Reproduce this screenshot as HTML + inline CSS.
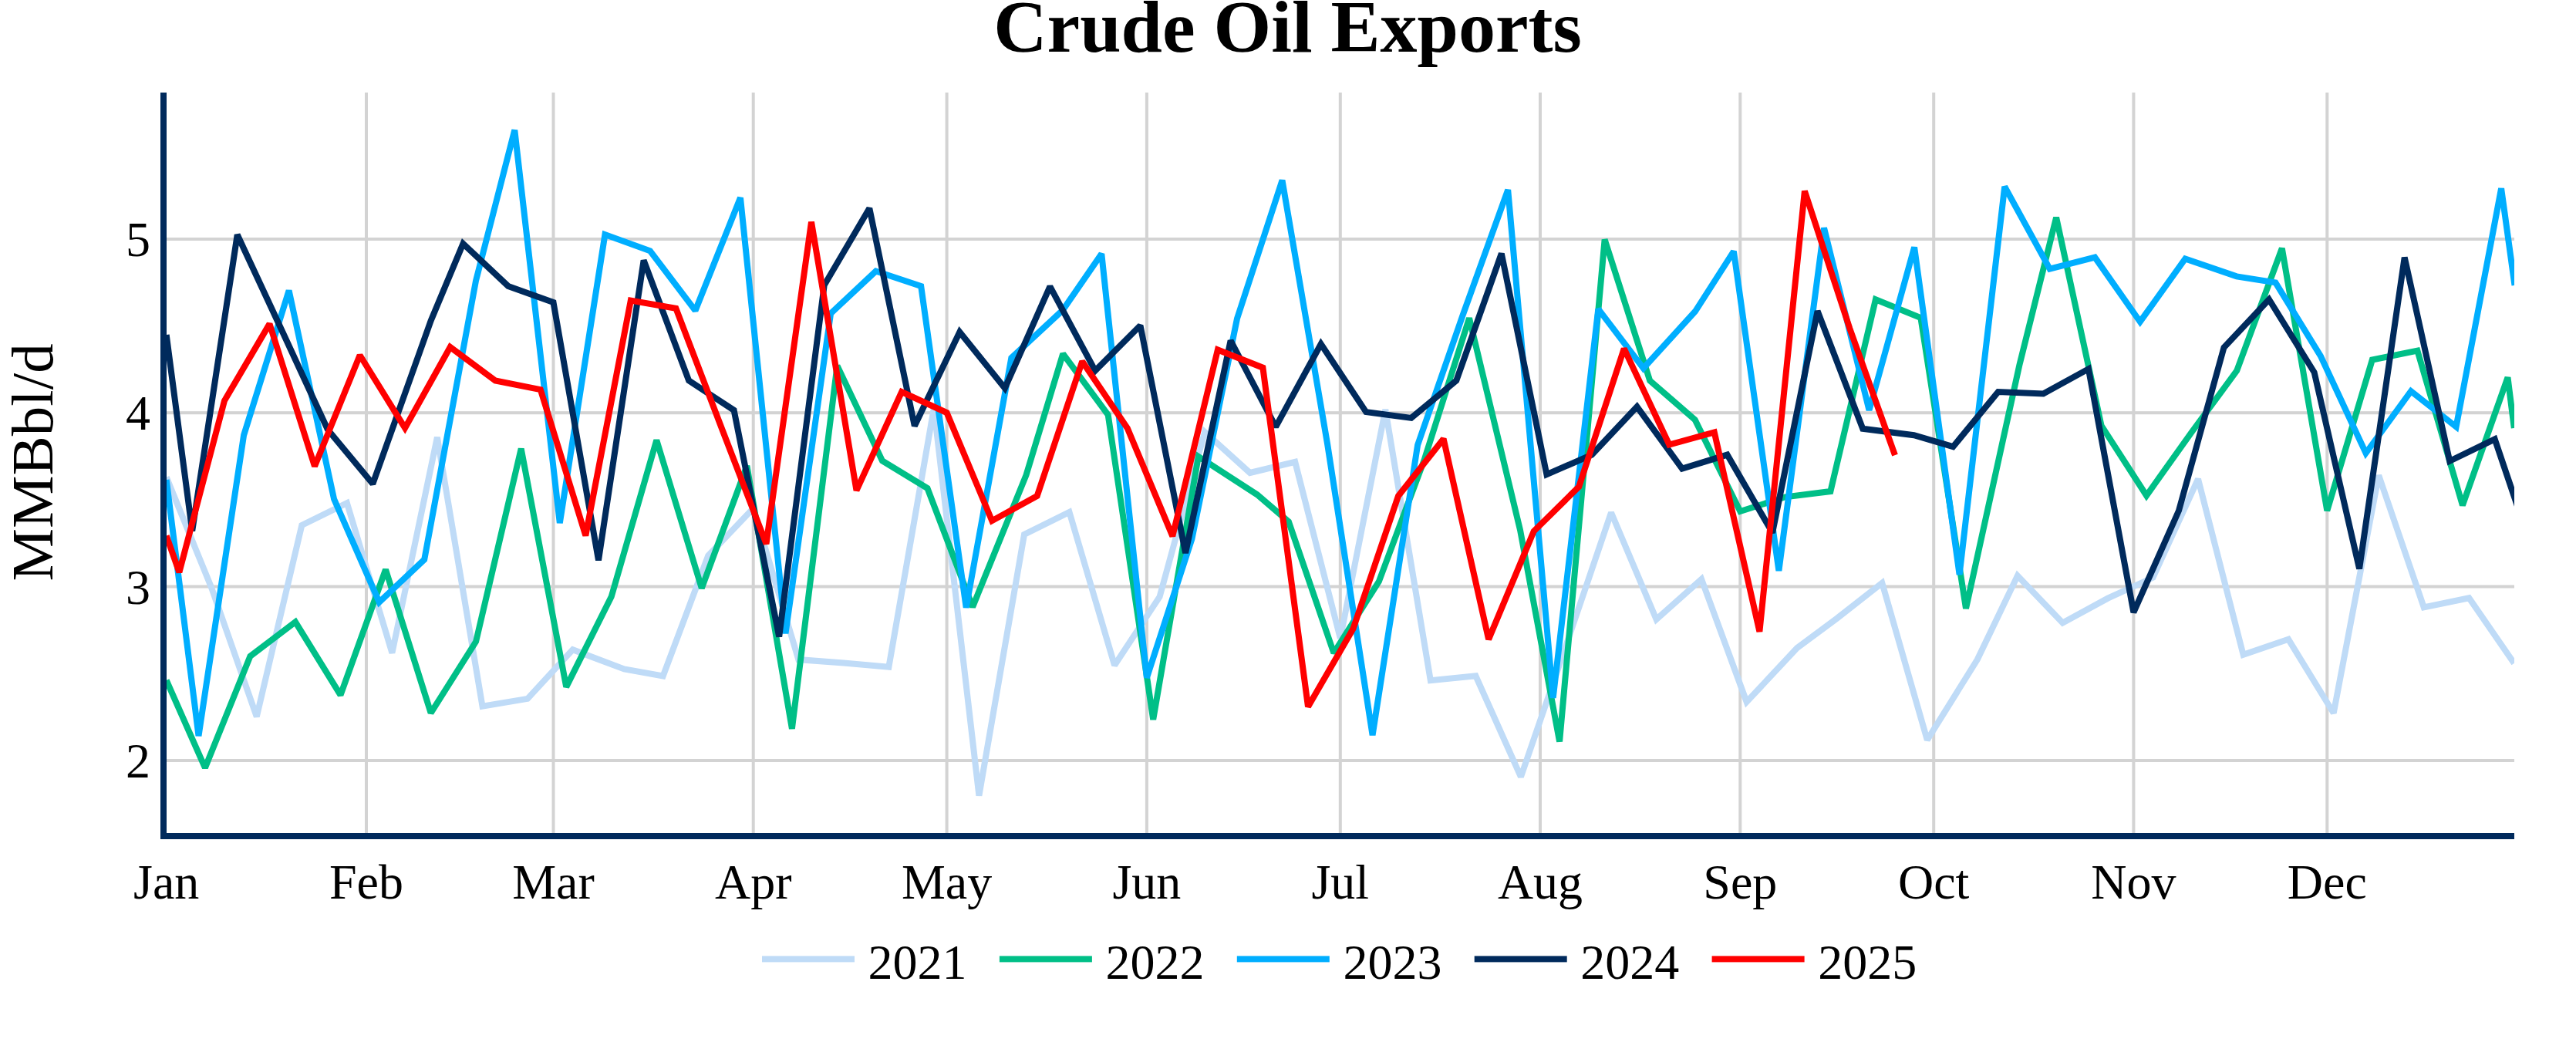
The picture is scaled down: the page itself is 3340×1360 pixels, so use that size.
<!DOCTYPE html><html><head><meta charset="utf-8"><title>Crude Oil Exports</title><style>html,body{margin:0;padding:0;background:#fff}svg{display:block}text{font-family:"Liberation Serif",serif;fill:#000}</style></head><body>
<svg width="3340" height="1360" viewBox="0 0 3340 1360">
<rect width="3340" height="1360" fill="#fff"/>
<defs><clipPath id="c"><rect x="216" y="120" width="3044" height="960"/></clipPath></defs>
<rect x="473.0" y="120" width="4" height="960" fill="#d3d3d3"/>
<rect x="715.5" y="120" width="4" height="960" fill="#d3d3d3"/>
<rect x="974.7" y="120" width="4" height="960" fill="#d3d3d3"/>
<rect x="1225.6" y="120" width="4" height="960" fill="#d3d3d3"/>
<rect x="1484.9" y="120" width="4" height="960" fill="#d3d3d3"/>
<rect x="1735.8" y="120" width="4" height="960" fill="#d3d3d3"/>
<rect x="1995.0" y="120" width="4" height="960" fill="#d3d3d3"/>
<rect x="2254.3" y="120" width="4" height="960" fill="#d3d3d3"/>
<rect x="2505.2" y="120" width="4" height="960" fill="#d3d3d3"/>
<rect x="2764.4" y="120" width="4" height="960" fill="#d3d3d3"/>
<rect x="3015.3" y="120" width="4" height="960" fill="#d3d3d3"/>
<rect x="216" y="308.0" width="3044" height="4" fill="#d3d3d3"/>
<rect x="216" y="533.2" width="3044" height="4" fill="#d3d3d3"/>
<rect x="216" y="758.5" width="3044" height="4" fill="#d3d3d3"/>
<rect x="216" y="984.0" width="3044" height="4" fill="#d3d3d3"/>
<g clip-path="url(#c)" fill="none" stroke-width="8" stroke-miterlimit="2" stroke-linejoin="miter" stroke-linecap="butt">
<path d="M215.7,618.6L274.2,762.0L332.8,929.1L391.3,681.0L449.9,652.2L508.4,846.5L566.9,566.9L625.5,915.6L684.0,905.9L742.6,842.3L809.3,867.5L859.7,876.5L918.2,720.4L976.7,659.0L1035.3,855.1L1093.8,859.5L1152.4,864.8L1210.9,529.0L1269.4,1031.5L1328.0,693.0L1386.5,663.9L1445.1,862.5L1503.6,773.6L1562.1,560.0L1620.7,613.0L1679.2,598.9L1737.8,827.6L1796.3,530.9L1854.8,882.2L1913.4,876.3L1971.9,1007.2L2030.5,836.8L2089.0,664.5L2147.6,803.0L2206.1,750.9L2264.6,910.0L2330.1,840.1L2381.7,801.7L2440.3,755.8L2498.8,959.4L2563.8,855.1L2615.9,746.4L2674.4,807.6L2733.0,775.7L2791.5,748.8L2850.0,621.0L2908.6,848.9L2967.1,828.8L3025.7,924.5L3084.2,616.3L3142.7,787.3L3201.3,775.3L3259.8,860.0" stroke="#bfdbf7"/>
<path d="M215.7,881.9L265.9,995.5L324.4,850.8L383.0,806.3L441.5,901.1L500.0,738.4L558.6,924.3L617.1,831.8L675.7,581.7L734.2,890.6L792.7,773.6L851.3,570.7L909.8,762.6L968.4,604.0L1026.9,944.7L1085.5,474.2L1144.0,597.5L1202.5,633.0L1261.1,786.9L1330.5,616.0L1378.2,458.7L1436.7,537.8L1495.2,932.9L1553.8,591.8L1630.0,641.3L1670.9,676.4L1729.4,846.7L1787.9,753.8L1846.5,596.6L1905.0,412.5L1971.0,687.0L2022.1,961.4L2080.6,310.5L2139.2,493.4L2197.7,544.2L2256.3,663.0L2314.8,644.3L2373.4,637.0L2431.9,388.3L2490.4,412.1L2549.0,789.0L2618.5,472.7L2666.1,281.9L2724.6,551.8L2783.1,642.5L2841.7,560.2L2900.2,480.7L2958.8,322.0L3017.3,662.1L3075.8,466.5L3134.4,454.7L3192.9,655.1L3251.5,489.3L3259.8,555.0" stroke="#00bf87"/>
<path d="M215.7,622.0L257.5,954.1L316.1,564.2L374.6,376.7L433.1,647.0L491.7,780.7L550.2,725.4L617.0,364.0L667.3,168.6L725.8,678.1L784.4,304.1L842.9,325.3L901.5,402.7L960.0,256.3L1018.5,821.3L1077.1,406.4L1135.6,351.5L1194.2,371.0L1252.7,787.7L1311.3,464.0L1378.0,402.0L1428.3,329.1L1486.9,878.7L1545.4,698.7L1604.0,413.1L1662.5,233.8L1721.0,575.0L1779.6,953.1L1838.1,576.9L1896.7,408.4L1955.2,246.0L2013.7,904.9L2072.3,400.7L2130.8,477.5L2197.9,403.8L2247.9,325.8L2306.4,739.9L2365.0,295.4L2423.5,531.7L2482.1,320.5L2540.6,745.0L2599.2,241.9L2657.7,348.7L2716.2,333.6L2774.8,417.2L2833.3,335.5L2900.0,358.4L2950.4,366.4L3008.9,461.6L3067.5,587.5L3126.0,507.2L3184.6,553.3L3243.1,244.2L3260.5,370.0" stroke="#00aeff"/>
<path d="M215.7,434.0L249.2,688.5L307.7,304.3L366.2,430.0L424.8,556.8L483.3,627.3L558.6,416.0L600.4,315.9L658.9,371.0L717.5,392.0L776.0,726.4L834.6,337.5L893.1,493.4L951.6,531.8L1010.2,825.4L1068.7,369.7L1127.3,270.0L1185.8,552.2L1244.3,430.4L1302.9,503.3L1361.4,371.4L1420.0,480.6L1478.5,422.0L1537.1,717.0L1595.6,441.5L1654.1,553.3L1712.7,446.1L1771.2,534.1L1829.8,541.9L1888.3,493.4L1946.8,328.7L2005.4,615.2L2063.9,589.6L2122.5,527.3L2181.0,607.5L2239.5,589.6L2298.1,690.6L2356.6,403.2L2415.2,555.8L2481.6,564.2L2532.3,579.2L2590.8,508.0L2649.3,510.4L2707.9,478.3L2766.4,793.9L2825.0,662.0L2883.5,450.5L2942.0,388.2L3000.6,482.7L3059.1,737.4L3117.7,333.7L3176.2,597.8L3234.7,569.4L3268.2,668.4" stroke="#002a5c"/>
<path d="M215.7,694.5L232.4,741.9L291.0,519.5L349.5,419.9L408.0,604.6L466.6,460.5L525.1,554.9L583.7,450.0L642.2,493.4L700.8,505.1L759.3,694.4L817.8,389.6L876.4,399.8L934.9,553.0L993.5,705.1L1052.0,287.7L1110.5,635.8L1169.1,508.0L1227.6,535.1L1286.2,675.2L1344.7,643.0L1403.2,468.4L1461.8,555.2L1520.3,695.1L1578.9,453.5L1637.4,476.7L1696.0,916.3L1754.5,815.1L1813.0,643.0L1871.6,568.9L1930.1,828.9L1988.7,688.7L2047.2,631.0L2105.7,451.9L2164.3,576.5L2222.8,560.5L2281.4,818.8L2339.9,247.7L2398.4,426.0L2457.0,590.2" stroke="#ff0000"/>
</g>
<rect x="208" y="120" width="8" height="968" fill="#002a5c"/>
<rect x="208" y="1080" width="3052" height="8" fill="#002a5c"/>
<text x="215.7" y="1165" font-size="64" text-anchor="middle">Jan</text>
<text x="475.0" y="1165" font-size="64" text-anchor="middle">Feb</text>
<text x="717.5" y="1165" font-size="64" text-anchor="middle">Mar</text>
<text x="976.7" y="1165" font-size="64" text-anchor="middle">Apr</text>
<text x="1227.6" y="1165" font-size="64" text-anchor="middle">May</text>
<text x="1486.9" y="1165" font-size="64" text-anchor="middle">Jun</text>
<text x="1737.8" y="1165" font-size="64" text-anchor="middle">Jul</text>
<text x="1997.0" y="1165" font-size="64" text-anchor="middle">Aug</text>
<text x="2256.3" y="1165" font-size="64" text-anchor="middle">Sep</text>
<text x="2507.2" y="1165" font-size="64" text-anchor="middle">Oct</text>
<text x="2766.4" y="1165" font-size="64" text-anchor="middle">Nov</text>
<text x="3017.3" y="1165" font-size="64" text-anchor="middle">Dec</text>
<text x="195" y="332.0" font-size="64" text-anchor="end">5</text>
<text x="195" y="557.2" font-size="64" text-anchor="end">4</text>
<text x="195" y="782.5" font-size="64" text-anchor="end">3</text>
<text x="195" y="1008.0" font-size="64" text-anchor="end">2</text>
<text x="1669.6" y="67.2" font-size="96" font-weight="bold" text-anchor="middle">Crude Oil Exports</text>
<text transform="translate(68,599.4) rotate(-90)" font-size="77" text-anchor="middle">MMBbl/d</text>
<rect x="988.0" y="1239.4" width="120" height="8" fill="#bfdbf7"/>
<text x="1125.6" y="1268.8" font-size="64">2021</text>
<rect x="1295.9" y="1239.4" width="120" height="8" fill="#00bf87"/>
<text x="1433.5" y="1268.8" font-size="64">2022</text>
<rect x="1603.8" y="1239.4" width="120" height="8" fill="#00aeff"/>
<text x="1741.4" y="1268.8" font-size="64">2023</text>
<rect x="1911.7" y="1239.4" width="120" height="8" fill="#002a5c"/>
<text x="2049.3" y="1268.8" font-size="64">2024</text>
<rect x="2219.6" y="1239.4" width="120" height="8" fill="#ff0000"/>
<text x="2357.2" y="1268.8" font-size="64">2025</text>
</svg></body></html>
